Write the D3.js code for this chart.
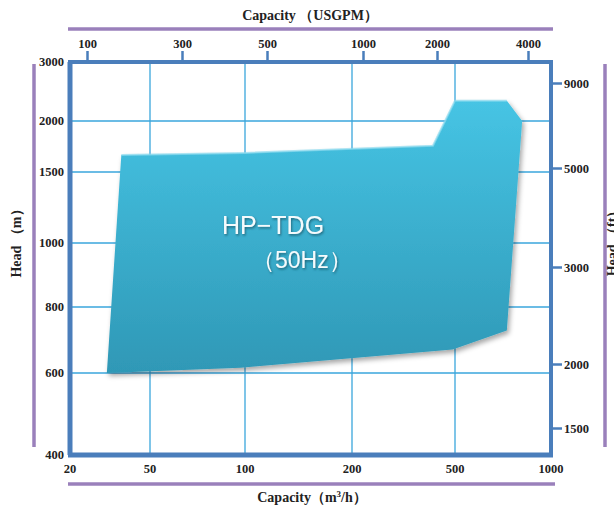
<!DOCTYPE html>
<html>
<head>
<meta charset="utf-8">
<script src="https://cdn.jsdelivr.net/npm/d3@7"></script>
<style>
  html, body { margin: 0; padding: 0; background: #fff; }
  svg { display: block; }
  .lbl { font-family: "Liberation Serif", "Times New Roman", serif; font-weight: bold; fill: #222; }
</style>
</head>
<body>
<div id="chart"></div>
<script>
// capacity ticks (m3/h) along the bottom, USGPM along the top
const capTicks = [20, 50, 100, 200, 500, 1000];
const gpmTicks = [100, 300, 500, 1000, 2000, 4000];
// head ticks, metres on the left and feet on the right
const headTicks = [400, 600, 800, 1000, 1500, 2000, 3000];
const ftTicks = [1500, 2000, 3000, 5000, 9000];

// outline of the HP-TDG (50Hz) range: capacity m3/h, head m
const rangeCap  = [30.5, 36, 100, 411, 500, 727, 812, 727, 490, 97];
const rangeHead = [600, 1650, 1670, 1740, 2300, 2300, 2000, 722, 665, 614];

const W = 614, H = 508;
const L = 70, R = 551, T = 62, B = 455;

const svg = d3.select('#chart').append('svg')
    .attr('width', W).attr('height', H);

// the printed chart does not use a true log spacing, so the scales are piecewise
const x = d3.scaleLog().domain(capTicks).range([L, 150, 245, 352, 455, R]);
const xTop = d3.scaleLog().domain(gpmTicks).range([87, 182, 267, 363, 437, 528]);
const y = d3.scaleLog().domain(headTicks).range([B, 373, 307, 243, 172, 121, T]);
const yFt = d3.scaleLog().domain(ftTicks).range([428, 364, 267, 168, 83]);

const axisBlue = '#4a7ebb', gridBlue = '#3aa6dc', purple = '#9a80bb';

const defs = svg.append('defs');
const grad = defs.append('linearGradient').attr('id', 'fillGrad')
    .attr('x1', 0).attr('y1', 0).attr('x2', 0).attr('y2', 1);
grad.append('stop').attr('offset', '0%').attr('stop-color', '#46c4e4');
grad.append('stop').attr('offset', '100%').attr('stop-color', '#2f98b6');
const sh = defs.append('filter').attr('id', 'shadow')
    .attr('x', '-10%').attr('y', '-10%').attr('width', '130%').attr('height', '130%');
sh.append('feDropShadow').attr('dx', 2).attr('dy', 3).attr('stdDeviation', 2.5)
    .attr('flood-color', '#000').attr('flood-opacity', 0.35);
const tsh = defs.append('filter').attr('id', 'tshadow');
tsh.append('feDropShadow').attr('dx', 1).attr('dy', 1.5).attr('stdDeviation', 0.8)
    .attr('flood-color', '#1b5566').attr('flood-opacity', 0.8);

// grid
svg.append('g').selectAll('line').data(headTicks.slice(1, -1)).join('line')
    .attr('x1', L).attr('x2', R).attr('y1', d => y(d)).attr('y2', d => y(d))
    .attr('stroke', gridBlue).attr('stroke-width', 1.3);
svg.append('g').selectAll('line').data(capTicks.slice(1, -1)).join('line')
    .attr('x1', d => x(d)).attr('x2', d => x(d)).attr('y1', T).attr('y2', B)
    .attr('stroke', gridBlue).attr('stroke-width', 1.3);

// operating range
const pts = rangeCap.map((c, i) => [x(c), y(rangeHead[i])]);
svg.append('path')
    .attr('d', d3.line().curve(d3.curveLinearClosed)(pts))
    .attr('fill', 'url(#fillGrad)')
    .attr('filter', 'url(#shadow)');
// light bevel along the upper edges
svg.append('path')
    .attr('d', d3.line()(pts.slice(1, 6)))
    .attr('fill', 'none').attr('stroke', '#8edcf0').attr('stroke-width', 2).attr('opacity', 0.7);

const name = svg.append('g').attr('filter', 'url(#tshadow)')
    .style('font-family', '"Liberation Sans", Arial, sans-serif').attr('fill', '#f4fbfd');
name.append('text').attr('x', 222).attr('y', 234).style('font-size', '25px').text('HP−TDG');
name.append('text').attr('x', 252).attr('y', 268).style('font-size', '23px').text('（50Hz）');

// frame axes
const axes = svg.append('g').attr('stroke', axisBlue).attr('fill', 'none');
axes.append('line').attr('x1', L - 2).attr('x2', R + 2).attr('y1', B).attr('y2', B).attr('stroke-width', 5);
axes.append('line').attr('x1', L - 2).attr('x2', R + 2).attr('y1', T).attr('y2', T).attr('stroke-width', 4);
axes.append('line').attr('x1', L).attr('x2', L).attr('y1', T).attr('y2', B).attr('stroke-width', 5);
axes.append('line').attr('x1', R).attr('x2', R).attr('y1', T).attr('y2', B).attr('stroke-width', 4);

// bottom axis labels
svg.append('g').selectAll('text').data(capTicks).join('text')
    .attr('class', 'lbl').attr('x', d => x(d)).attr('y', 473)
    .attr('text-anchor', 'middle').style('font-size', '12.5px').text(d => d);

// top axis with ticks
const topAxis = svg.append('g').attr('transform', `translate(0,${T})`)
    .call(d3.axisTop(xTop).tickValues(gpmTicks).tickSize(11).tickPadding(3).tickFormat(d3.format('d')));
topAxis.select('.domain').remove();
topAxis.selectAll('line').attr('stroke', axisBlue).attr('stroke-width', 2.5);
topAxis.selectAll('text').attr('class', 'lbl').style('font-size', '12.5px').attr('fill', '#222');

// left axis labels
svg.append('g').selectAll('text').data(headTicks).join('text')
    .attr('class', 'lbl').attr('x', 64).attr('y', d => y(d) + 4)
    .attr('text-anchor', 'end').style('font-size', '12.5px').text(d => d);

// right axis with ticks
const rightAxis = svg.append('g').attr('transform', `translate(${R},0)`)
    .call(d3.axisRight(yFt).tickValues(ftTicks).tickSize(11).tickPadding(2).tickFormat(d3.format('d')));
rightAxis.select('.domain').remove();
rightAxis.selectAll('line').attr('stroke', axisBlue).attr('stroke-width', 2.5);
rightAxis.selectAll('text').attr('class', 'lbl').style('font-size', '12.5px').attr('fill', '#222');

// purple title bars
const bars = svg.append('g').attr('stroke', purple).attr('stroke-width', 3.5);
bars.append('line').attr('x1', 68).attr('x2', 553).attr('y1', 29).attr('y2', 29);
bars.append('line').attr('x1', 68).attr('x2', 555).attr('y1', 484).attr('y2', 484);
bars.append('line').attr('x1', 34).attr('x2', 34).attr('y1', 64).attr('y2', 447);
bars.append('line').attr('x1', 605).attr('x2', 605).attr('y1', 64).attr('y2', 447);

// axis titles
svg.append('text').attr('class', 'lbl').attr('x', 310).attr('y', 20)
    .attr('text-anchor', 'middle').style('font-size', '14px').text('Capacity （USGPM）');
svg.append('text').attr('class', 'lbl').attr('x', 312).attr('y', 502)
    .attr('text-anchor', 'middle').style('font-size', '14px')
    .html('Capacity（m<tspan dy="-5" style="font-size:9px">3</tspan><tspan dy="5">/h）</tspan>');
svg.append('text').attr('class', 'lbl')
    .attr('transform', 'translate(21,240) rotate(-90)')
    .attr('text-anchor', 'middle').style('font-size', '14px').text('Head （m）');
svg.append('text').attr('class', 'lbl')
    .attr('transform', 'translate(617,240) rotate(-90)')
    .attr('text-anchor', 'middle').style('font-size', '14px').text('Head （ft）');
</script>
</body>
</html>
